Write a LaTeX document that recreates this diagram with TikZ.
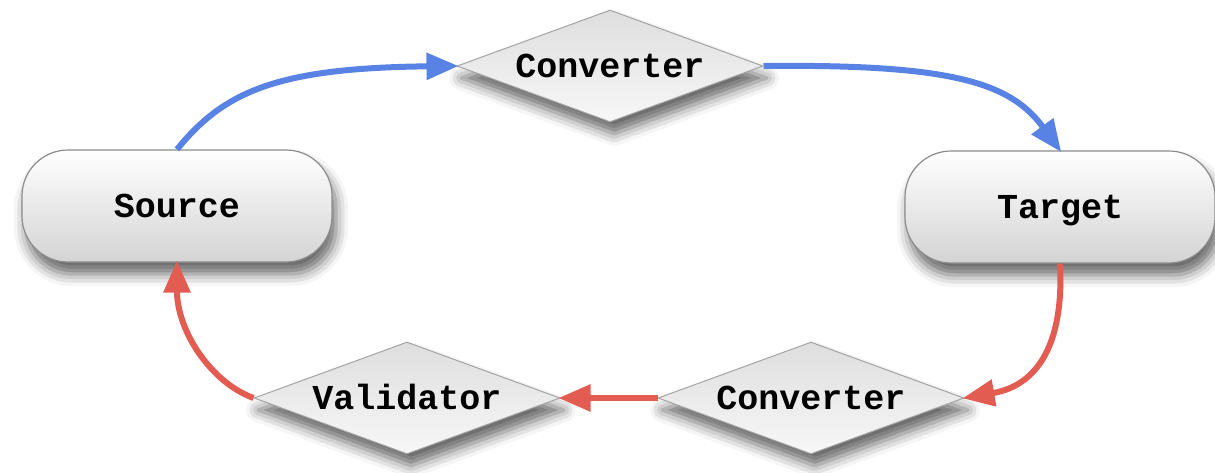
\documentclass[tikz,border=0pt]{standalone}
\usepackage{fontspec}
\setmonofont{Liberation Mono}
\usetikzlibrary{shapes.geometric,arrows.meta,shadows.blur}
\definecolor{flowblue}{RGB}{88,130,228}
\definecolor{flowred}{RGB}{226,92,82}
\definecolor{edgegray}{RGB}{140,140,140}
\tikzset{
  label font/.style={font=\ttfamily\bfseries\fontsize{17.5pt}{20pt}\selectfont,
    text height=14pt,text depth=2.5pt},
  softshadow/.style={blur shadow={shadow xshift=2pt,shadow yshift=-6pt,shadow blur radius=6pt,shadow opacity=60}},
  endpoint/.style={draw=edgegray,line width=0.6pt,rounded corners=23pt,
    minimum width=155pt,minimum height=56pt,top color=white,bottom color=black!17,
    softshadow,label font},
  stagebox/.style={diamond,aspect=3,draw=edgegray!80,line width=0.5pt,inner sep=0pt,
    minimum width=153pt,minimum height=56pt,top color=black!13,bottom color=black!3,
    softshadow,label font},
  flow/.style={line width=3pt,-{Triangle[length=16pt,width=13pt]},shorten >=-1pt},
}
\begin{document}
\begin{tikzpicture}[x=0.5pt,y=-0.5pt]
\useasboundingbox (0,0) rectangle (1215,472);
% stations of the round trip
\node[endpoint] (src) at (177,206) {Source};
\node[endpoint] (tgt) at (1060,207) {Target};
\node[stagebox] (conv1) at (610,66) {Converter};
\node[stagebox] (conv2) at (811,398) {Converter};
\node[stagebox] (val) at (407,398) {Validator};
% forward direction
\draw[flow,flowblue] (src.north) .. controls (225,90) and (280,68) .. (conv1.west);
\draw[flow,flowblue] (conv1.east) .. controls (950,64) and (1010,82) .. (tgt.north);
% backward direction
\draw[flow,flowred] (tgt.south) .. controls (1064,340) and (1040,385) .. (conv2.east);
\draw[flow,flowred] (conv2.west) -- (val.east);
\draw[flow,flowred] (val.west) .. controls (210,382) and (177,330) .. (src.south);
\end{tikzpicture}
\end{document}
